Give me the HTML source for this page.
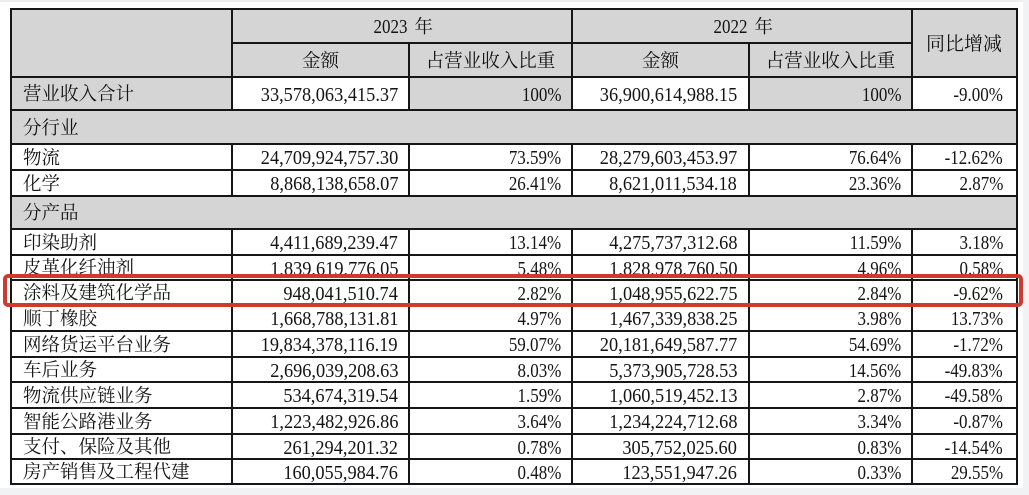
<!DOCTYPE html>
<html><head><meta charset="utf-8">
<style>
html,body{margin:0;padding:0;}
body{width:1029px;height:495px;position:relative;overflow:hidden;background:#fff;}
.bg{position:absolute;}
.hl{position:absolute;height:2px;background:#161616;}
.vl{position:absolute;width:2px;background:#161616;}
.row{position:absolute;left:0;width:1029px;overflow:hidden;}
.c{position:absolute;top:1.5px;white-space:nowrap;box-sizing:border-box;font-family:"Liberation Serif","Noto Serif CJK SC",serif;color:#141414;}
.l{text-align:left;padding-left:12px;font-size:18.5px;}
.r{text-align:right;font-size:19.5px;}
.ctr{text-align:center;font-size:18.5px;}
.n{display:inline-block;transform:scaleX(0.87);transform-origin:100% 50%;font-size:19.5px;}
.c2 .n,.c4 .n{transform:scaleX(0.94);}
.k{font-size:18.5px;}
.c1{left:11px;width:221px;}
.c2{left:232px;width:177px;padding-right:11px;}
.c3{left:409px;width:163px;padding-right:11px;}
.c4{left:572px;width:177px;padding-right:12px;}
.c5{left:749px;width:163px;padding-right:11px;}
.c6{left:912px;width:104px;padding-right:13px;}
</style></head><body>
<!-- page edge strips -->
<div class="bg" style="left:0;top:0;width:1029px;height:2px;background:#eceef1"></div>
<div class="bg" style="left:1023px;top:0;width:6px;height:495px;background:#f1f2f4"></div>
<div class="bg" style="left:0;top:488px;width:1029px;height:7px;background:#f1f2f4"></div>

<!-- grey backgrounds -->
<div class="bg" style="left:11px;top:9px;width:1005px;height:68px;background:#d5d5d5"></div>
<div class="bg" style="left:11px;top:77px;width:221px;height:33px;background:#d5d5d5"></div>
<div class="bg" style="left:409px;top:77px;width:163px;height:33px;background:#d5d5d5"></div>
<div class="bg" style="left:749px;top:77px;width:163px;height:33px;background:#d5d5d5"></div>
<div class="bg" style="left:11px;top:110px;width:1005px;height:34px;background:#d5d5d5"></div>
<div class="bg" style="left:11px;top:196px;width:1005px;height:33px;background:#d5d5d5"></div>

<!-- header text -->
<div class="row" style="top:9px;height:34px;line-height:34px">
  <div class="c ctr" style="left:232px;width:340px"><span class="n" style="transform-origin:50% 50%">2023</span> 年</div>
  <div class="c ctr" style="left:572px;width:340px"><span class="n" style="transform-origin:50% 50%">2022</span> 年</div>
</div>
<div class="row" style="top:9px;height:68px;line-height:68px">
  <div class="c ctr c6" style="padding-right:0;font-size:19px">同比增减</div>
</div>
<div class="row" style="top:43px;height:34px;line-height:34px">
  <div class="c ctr" style="left:232px;width:177px">金额</div>
  <div class="c ctr" style="left:409px;width:163px">占营业收入比重</div>
  <div class="c ctr" style="left:572px;width:177px">金额</div>
  <div class="c ctr" style="left:749px;width:163px">占营业收入比重</div>
</div>

<!-- data rows -->
<div class="row" style="top:77px;height:33px;line-height:33px">
  <div class="c l c1">营业收入合计</div>
  <div class="c r c2"><span class="n">33,578,063,415.37</span></div>
  <div class="c r c3"><span class="n">100%</span></div>
  <div class="c r c4"><span class="n">36,900,614,988.15</span></div>
  <div class="c r c5"><span class="n">100%</span></div>
  <div class="c r c6"><span class="n">-9.00%</span></div>
</div>
<div class="row" style="top:110px;height:34px;line-height:34px">
  <div class="c l c1">分行业</div>
</div>
<div class="row" style="top:144px;height:26px;line-height:26px">
  <div class="c l c1">物流</div>
  <div class="c r c2"><span class="n">24,709,924,757.30</span></div>
  <div class="c r c3"><span class="n">73.59%</span></div>
  <div class="c r c4"><span class="n">28,279,603,453.97</span></div>
  <div class="c r c5"><span class="n">76.64%</span></div>
  <div class="c r c6"><span class="n">-12.62%</span></div>
</div>
<div class="row" style="top:170px;height:26px;line-height:26px">
  <div class="c l c1">化学</div>
  <div class="c r c2"><span class="n">8,868,138,658.07</span></div>
  <div class="c r c3"><span class="n">26.41%</span></div>
  <div class="c r c4"><span class="n">8,621,011,534.18</span></div>
  <div class="c r c5"><span class="n">23.36%</span></div>
  <div class="c r c6"><span class="n">2.87%</span></div>
</div>
<div class="row" style="top:196px;height:33px;line-height:33px">
  <div class="c l c1">分产品</div>
</div>
<div class="row" style="top:229px;height:26px;line-height:26px">
  <div class="c l c1">印染助剂</div>
  <div class="c r c2"><span class="n">4,411,689,239.47</span></div>
  <div class="c r c3"><span class="n">13.14%</span></div>
  <div class="c r c4"><span class="n">4,275,737,312.68</span></div>
  <div class="c r c5"><span class="n">11.59%</span></div>
  <div class="c r c6"><span class="n">3.18%</span></div>
</div>
<div class="row" style="top:255px;height:21px;line-height:25px">
  <div class="c l c1">皮革化纤油剂</div>
  <div class="c r c2"><span class="n">1,839,619,776.05</span></div>
  <div class="c r c3"><span class="n">5.48%</span></div>
  <div class="c r c4"><span class="n">1,828,978,760.50</span></div>
  <div class="c r c5"><span class="n">4.96%</span></div>
  <div class="c r c6"><span class="n">0.58%</span></div>
</div>
<div class="row" style="top:280px;height:25px;line-height:25px">
  <div class="c l c1">涂料及建筑化学品</div>
  <div class="c r c2"><span class="n">948,041,510.74</span></div>
  <div class="c r c3"><span class="n">2.82%</span></div>
  <div class="c r c4"><span class="n">1,048,955,622.75</span></div>
  <div class="c r c5"><span class="n">2.84%</span></div>
  <div class="c r c6"><span class="n">-9.62%</span></div>
</div>
<div class="row" style="top:305px;height:26px;line-height:26px">
  <div class="c l c1">顺丁橡胶</div>
  <div class="c r c2"><span class="n">1,668,788,131.81</span></div>
  <div class="c r c3"><span class="n">4.97%</span></div>
  <div class="c r c4"><span class="n">1,467,339,838.25</span></div>
  <div class="c r c5"><span class="n">3.98%</span></div>
  <div class="c r c6"><span class="n">13.73%</span></div>
</div>
<div class="row" style="top:331px;height:26px;line-height:26px">
  <div class="c l c1">网络货运平台业务</div>
  <div class="c r c2"><span class="n">19,834,378,116.19</span></div>
  <div class="c r c3"><span class="n">59.07%</span></div>
  <div class="c r c4"><span class="n">20,181,649,587.77</span></div>
  <div class="c r c5"><span class="n">54.69%</span></div>
  <div class="c r c6"><span class="n">-1.72%</span></div>
</div>
<div class="row" style="top:357px;height:25px;line-height:25px">
  <div class="c l c1">车后业务</div>
  <div class="c r c2"><span class="n">2,696,039,208.63</span></div>
  <div class="c r c3"><span class="n">8.03%</span></div>
  <div class="c r c4"><span class="n">5,373,905,728.53</span></div>
  <div class="c r c5"><span class="n">14.56%</span></div>
  <div class="c r c6"><span class="n">-49.83%</span></div>
</div>
<div class="row" style="top:382px;height:26px;line-height:26px">
  <div class="c l c1">物流供应链业务</div>
  <div class="c r c2"><span class="n">534,674,319.54</span></div>
  <div class="c r c3"><span class="n">1.59%</span></div>
  <div class="c r c4"><span class="n">1,060,519,452.13</span></div>
  <div class="c r c5"><span class="n">2.87%</span></div>
  <div class="c r c6"><span class="n">-49.58%</span></div>
</div>
<div class="row" style="top:408px;height:26px;line-height:26px">
  <div class="c l c1">智能公路港业务</div>
  <div class="c r c2"><span class="n">1,223,482,926.86</span></div>
  <div class="c r c3"><span class="n">3.64%</span></div>
  <div class="c r c4"><span class="n">1,234,224,712.68</span></div>
  <div class="c r c5"><span class="n">3.34%</span></div>
  <div class="c r c6"><span class="n">-0.87%</span></div>
</div>
<div class="row" style="top:434px;height:25px;line-height:25px">
  <div class="c l c1">支付、保险及其他</div>
  <div class="c r c2"><span class="n">261,294,201.32</span></div>
  <div class="c r c3"><span class="n">0.78%</span></div>
  <div class="c r c4"><span class="n">305,752,025.60</span></div>
  <div class="c r c5"><span class="n">0.83%</span></div>
  <div class="c r c6"><span class="n">-14.54%</span></div>
</div>
<div class="row" style="top:459px;height:25px;line-height:25px">
  <div class="c l c1">房产销售及工程代建</div>
  <div class="c r c2"><span class="n">160,055,984.76</span></div>
  <div class="c r c3"><span class="n">0.48%</span></div>
  <div class="c r c4"><span class="n">123,551,947.26</span></div>
  <div class="c r c5"><span class="n">0.33%</span></div>
  <div class="c r c6"><span class="n">29.55%</span></div>
</div>

<!-- horizontal lines -->
<div class="hl" style="left:11px;width:1007px;top:8px"></div>
<div class="hl" style="left:232px;width:681px;top:42px"></div>
<div class="hl" style="left:11px;width:1007px;top:76px"></div>
<div class="hl" style="left:11px;width:1007px;top:109px"></div>
<div class="hl" style="left:11px;width:1007px;top:143px"></div>
<div class="hl" style="left:11px;width:1007px;top:169px"></div>
<div class="hl" style="left:11px;width:1007px;top:195px"></div>
<div class="hl" style="left:11px;width:1007px;top:228px"></div>
<div class="hl" style="left:11px;width:1007px;top:254px"></div>
<div class="hl" style="left:11px;width:1007px;top:279px"></div>
<div class="hl" style="left:11px;width:1007px;top:304px"></div>
<div class="hl" style="left:11px;width:1007px;top:330px"></div>
<div class="hl" style="left:11px;width:1007px;top:356px"></div>
<div class="hl" style="left:11px;width:1007px;top:381px"></div>
<div class="hl" style="left:11px;width:1007px;top:407px"></div>
<div class="hl" style="left:11px;width:1007px;top:433px"></div>
<div class="hl" style="left:11px;width:1007px;top:458px"></div>
<div class="hl" style="left:11px;width:1007px;top:483px"></div>

<!-- vertical lines -->
<div class="vl" style="left:10px;top:8px;height:477px"></div>
<div class="vl" style="left:1016px;top:8px;height:477px"></div>
<div class="vl" style="left:231px;top:8px;height:102px"></div>
<div class="vl" style="left:231px;top:143px;height:53px"></div>
<div class="vl" style="left:231px;top:228px;height:257px"></div>
<div class="vl" style="left:571px;top:8px;height:102px"></div>
<div class="vl" style="left:571px;top:143px;height:53px"></div>
<div class="vl" style="left:571px;top:228px;height:257px"></div>
<div class="vl" style="left:911px;top:8px;height:102px"></div>
<div class="vl" style="left:911px;top:143px;height:53px"></div>
<div class="vl" style="left:911px;top:228px;height:257px"></div>
<div class="vl" style="left:408px;top:42px;height:68px"></div>
<div class="vl" style="left:408px;top:143px;height:53px"></div>
<div class="vl" style="left:408px;top:228px;height:257px"></div>
<div class="vl" style="left:748px;top:42px;height:68px"></div>
<div class="vl" style="left:748px;top:143px;height:53px"></div>
<div class="vl" style="left:748px;top:228px;height:257px"></div>

<!-- red highlight box -->
<div style="position:absolute;left:3px;top:274px;width:1020px;height:33px;box-sizing:border-box;border:4px solid #cf3a2f;border-radius:5px;"></div>
</body></html>
